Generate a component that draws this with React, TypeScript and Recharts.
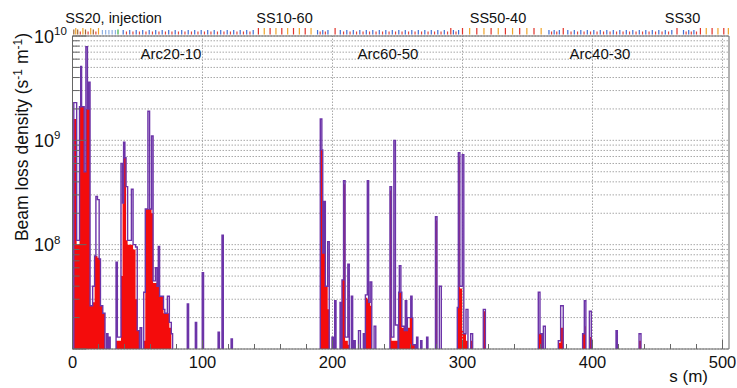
import React from 'react';
import {
  ComposedChart,
  Area,
  Line,
  Scatter,
  XAxis,
  YAxis,
  CartesianGrid,
  ReferenceLine,
} from 'recharts';

const WIDTH = 737;
const HEIGHT = 388;
const S_MAX = 505;
const Y_MIN = 1e7;
const Y_MAX = 1e10;
const FLOOR = 1e5; // empty bins end up below the frame and are clipped away
const FONT = '"Liberation Sans", Arial, Helvetica, sans-serif';
const AXIS = '#666';
const GRID = '#a8a8a8';
const PURPLE = '#6c34a8';
const RED = '#f40c0c';

// histogram bins: left edge (m); each bin runs up to the next edge
const binStart = [
  0, 1, 3.2, 5.4, 6.3, 7, 9, 10.3, 11.5, 12.4, 13.5, 15.5, 17, 18, 19.2, 20.5, 21.5, 23.3, 25, 26.3, 27.3, 28, 29,
  33.5, 34.5, 37.3, 38.5, 39.3, 40.3, 41.2, 42.4, 45.3, 46.6, 48.5, 49.8, 51.5, 52, 53.2, 54.8, 56, 58, 59.3, 60.8, 62, 63.8, 65, 66, 67, 70, 71, 73, 74.5, 76, 77,
  88.3, 89.3, 94.5, 95.5, 99.8, 100.8, 112, 113, 115, 116, 122, 123,
  190.6, 191.8, 192.5, 193.5, 194.5, 196.3, 197.5, 199.6, 200.6, 201.7, 202.7, 205.8, 206.8, 207.3, 208.5, 209.7, 211.8, 212.9, 214.5, 215.5, 216.5, 217.5, 220, 221.5, 223.7, 224.7, 225.3, 226.8, 227.8, 229, 230.2, 232, 233.3,
  244.2, 245.4, 247.2, 248.4, 250.4, 250.9, 251.4, 252.6, 253.3, 255.2, 256, 257.1, 257.6, 259.4, 260.2, 261.2, 261.7, 263.7, 264.7, 265.7, 267.8, 268.8, 272.4, 273.4, 279.2, 280.4, 282.2, 283.7, 296, 296.8, 298, 299.8, 301, 302.7, 304.2, 306.3, 307.8, 316, 317.6,
  358.3, 359.6, 361.2, 362.2, 363.7, 373.7, 375.5, 377.5, 392.4, 393.7, 394.9, 397.6, 399.1, 418.1, 419.1, 435.8, 437.3, 505,
];

// loss density per bin (s^-1 m^-1), purple outline histogram
const lossPurple = [
  0, 2.3e9, 1.1e8, 2.1e9, 5.1e9, 2.1e9, 5e8, 7.9e9, 2e9, 3.6e9, 2.6e7, 4e7, 7.8e7, 2.9e8, 2.7e8, 7.3e7, 2.6e7, 2.2e7, 0, 1.4e7, 0, 1.3e7, 0,
  6.8e7, 1.3e7, 6e8, 2.5e8, 9.6e8, 6.8e8, 3.6e8, 1.1e8, 3.4e8, 1e8, 9.5e7, 1.5e7, 0, 1.6e7, 0, 3.5e7, 2.2e8, 1.9e9, 2.2e8, 1.1e9, 4.5e7, 6e7, 4e7, 9.6e7, 3.2e7, 2.4e7, 2.2e7, 3.2e7, 1.8e7, 1.4e7, 0,
  2.7e7, 0, 1.8e7, 0, 5.4e7, 0, 1.45e7, 0, 1.23e8, 0, 1.25e7, 0,
  1.6e9, 8.1e8, 8.3e7, 2.6e8, 4e7, 1.07e8, 0, 1.3e7, 0, 2.9e7, 0, 2.8e7, 0, 4.6e7, 4.1e8, 1.3e7, 6.5e7, 0, 3.2e7, 0, 1.2e7, 0, 1.5e7, 0, 1.4e7, 0, 3.3e7, 4.1e8, 2.8e7, 4.4e7, 0, 1.65e7, 0,
  3.6e8, 1.3e7, 1e9, 1.7e7, 0, 3.5e7, 6.3e7, 3.5e7, 1.65e7, 1.5e7, 2.9e7, 1.5e7, 2e7, 2e7, 3.2e7, 2e7, 1.1e7, 0, 1.3e7, 0, 1.2e7, 0, 1.3e7, 0, 1.85e8, 0, 4e7, 0, 2.5e7, 7.6e8, 4e7, 7.3e8, 1.4e7, 2.4e7, 0, 1.4e7, 0, 2.4e7, 0,
  3.5e7, 1.4e7, 0, 1.65e7, 0, 1.2e7, 2.6e7, 0, 1.4e7, 2.9e7, 0, 2.3e7, 0, 1.5e7, 0, 1.4e7, 0, 0,
];

// loss density per bin, red filled histogram
const lossRed = [
  0, 1.6e9, 1e8, 2.1e9, 2.1e9, 2.1e9, 5e8, 2e9, 2e9, 2e9, 2.6e7, 2.8e7, 7.8e7, 7.8e7, 7.5e7, 7.3e7, 2.6e7, 2.2e7, 0, 0, 0, 0, 0,
  1.2e7, 1.2e7, 5e7, 2.5e8, 6.8e8, 6.8e8, 1.1e8, 1e8, 1e8, 9e7, 3e7, 1.5e7, 0, 0, 0, 1.2e7, 2.2e8, 2.2e8, 2.2e8, 2e8, 4.3e7, 4.3e7, 4e7, 4e7, 3.2e7, 2.2e7, 2.2e7, 2.2e7, 1.6e7, 0, 0,
  0, 0, 0, 0, 2e7, 0, 1.1e7, 0, 0, 0, 1.15e7, 0,
  8.1e8, 8.1e8, 8.3e7, 8.3e7, 4e7, 2.4e7, 0, 0, 0, 0, 0, 0, 0, 4.6e7, 3.8e8, 1.2e7, 1.1e7, 0, 0, 0, 0, 0, 0, 0, 0, 0, 3.1e7, 3e7, 2.8e7, 2.6e7, 0, 0, 0,
  3.3e8, 1.2e7, 1.2e7, 1.2e7, 0, 3.5e7, 3.5e7, 3.5e7, 1.6e7, 1.5e7, 1.5e7, 1.5e7, 1.6e7, 2e7, 2e7, 2e7, 1.1e7, 0, 0, 0, 0, 0, 1.2e7, 0, 1.7e8, 0, 0, 0, 2.5e7, 7e8, 3.8e7, 1.5e7, 1.4e7, 1.2e7, 0, 1.2e7, 0, 2.3e7, 0,
  1.4e7, 1.4e7, 0, 0, 0, 1.15e7, 1.6e7, 0, 1.4e7, 1.65e7, 0, 1.3e7, 0, 1.25e7, 0, 1.2e7, 0, 0,
];

// lattice element positions (m) drawn as the strip above the frame
const latticeQuad = [
  39, 44, 49, 54, 59, 64, 69, 74, 79, 84, 89, 94, 99, 104, 109, 114, 119, 124, 129, 134, 139,
  188.5, 192.5, 196.5,
  206, 211, 216, 221, 226, 231, 236, 241, 246, 251, 256, 261, 266, 271, 276, 281, 286, 293, 297,
  366.5, 370.5, 374.5,
  381, 386, 391, 396, 401, 406, 411, 416, 421, 426, 431, 436, 441, 446, 451, 456, 461,
  470, 474, 478,
];
const latticeDipole = [
  6, 12, 18,
  41.5, 46.5, 51.5, 56.5, 61.5, 66.5, 71.5, 76.5, 81.5, 86.5, 91.5, 96.5, 101.5, 106.5, 111.5, 116.5, 121.5, 126.5, 131.5, 136.5,
  190.5, 194.5,
  208.5, 213.5, 218.5, 223.5, 228.5, 233.5, 238.5, 243.5, 248.5, 253.5, 258.5, 263.5, 268.5, 273.5, 278.5, 283.5, 288.5, 295,
  368.5, 372.5,
  383.5, 388.5, 393.5, 398.5, 403.5, 408.5, 413.5, 418.5, 423.5, 428.5, 433.5, 438.5, 443.5, 448.5, 453.5, 458.5,
  472, 476, 480,
];
const latticeRed = [143, 152, 161, 170, 179, 202, 291, 300, 311, 322, 333, 344, 355, 377.5, 465, 483, 492, 501];
const latticeOrange = [2.5, 8, 14, 20, 147.5, 156.5, 165.5, 174.5, 183.5, 305.5, 316.5, 327.5, 338.5, 349.5, 360.5, 487.5, 496.5, 504.5];
const latticeBrown = [1, 4, 10, 16];
const latticeLight = [23, 25.5, 28, 30.5, 33];
const latticeGreen = [35];

const xTicks = [0, 20, 40, 60, 80, 100, 120, 140, 160, 180, 200, 220, 240, 260, 280, 300, 320, 340, 360, 380, 400, 420, 440, 460, 480, 500];
const xLabelled = [0, 100, 200, 300, 400, 500];
const yDecades = [1e7, 1e8, 1e9];
const yMantissas = [1, 2, 3, 4, 5, 6, 7, 8, 9];
const yTicks = [...yDecades.flatMap((d) => yMantissas.map((m) => m * d)), Y_MAX];
const yLabelled = [1e8, 1e9, 1e10];
const vGrid = [100, 200, 300, 400, 500];

const histRows = binStart.map((s, i) => ({
  s,
  purple: Math.max(lossPurple[i], FLOOR),
  red: Math.max(lossRed[i], FLOOR),
}));

const latticeSets = [
  { id: 'quad', pos: latticeQuad, color: '#3f6fd4', h: 4.5 },
  { id: 'dipole', pos: latticeDipole, color: '#e2443c', h: 3 },
  { id: 'red', pos: latticeRed, color: '#e2332a', h: 6.5 },
  { id: 'orange', pos: latticeOrange, color: '#f0a42a', h: 6.5 },
  { id: 'brown', pos: latticeBrown, color: '#9c6433', h: 5 },
  { id: 'light', pos: latticeLight, color: '#8fb0e2', h: 4.5 },
  { id: 'green', pos: latticeGreen, color: '#3fae4a', h: 5 },
];

function XTick(props: any) {
  const { x, y, payload } = props;
  const v = payload.value as number;
  const major = xLabelled.includes(v);
  return (
    <g>
      <line x1={x} x2={x} y1={y} y2={y - (major ? 9 : 5)} stroke={AXIS} />
      {major && (
        <text x={x} y={y + 18.5} textAnchor="middle" fontSize={16.5} fontFamily={FONT} fill="#111">
          {v}
        </text>
      )}
    </g>
  );
}

function YTick(props: any) {
  const { x, y, payload } = props;
  const v = payload.value as number;
  const exp = Math.round(Math.log10(v));
  const major = Math.abs(v / 10 ** exp - 1) < 1e-6;
  return (
    <g>
      <line x1={x} x2={x + (major ? 14 : 7)} y1={y} y2={y} stroke={AXIS} />
      {yLabelled.includes(v) && (
        <text x={34} y={y + 6.5} fontSize={18} fontFamily={FONT} fill="#111">
          10
          <tspan dy={-7.5} fontSize={11.5}>
            {exp}
          </tspan>
        </text>
      )}
    </g>
  );
}

export default function App() {
  return (
    <div style={{ position: 'absolute', left: 0, top: 0, width: WIDTH, height: HEIGHT, background: '#fff' }}>
      <ComposedChart
        width={WIDTH}
        height={HEIGHT}
        data={histRows}
        margin={{ top: 36, right: 8, bottom: 0, left: 0 }}
      >
        <CartesianGrid vertical={false} stroke={GRID} strokeDasharray="1.5 1.5" />
        <XAxis
          type="number"
          dataKey="s"
          domain={[0, S_MAX]}
          ticks={xTicks}
          interval={0}
          height={39}
          tickSize={0}
          tickMargin={0}
          tick={XTick}
          tickLine={false}
          axisLine={{ stroke: AXIS }}
        />
        <YAxis
          type="number"
          scale="log"
          domain={[Y_MIN, Y_MAX]}
          allowDataOverflow
          ticks={yTicks}
          interval={0}
          width={72.5}
          tickSize={0}
          tickMargin={0}
          tick={YTick}
          tickLine={false}
          axisLine={{ stroke: AXIS }}
        />
        <YAxis yAxisId="lattice" type="number" domain={[0, 1]} hide />
        {vGrid.map((v) => (
          <ReferenceLine key={v} x={v} stroke={GRID} strokeDasharray="1.5 1.5" ifOverflow="visible" />
        ))}
        <Area
          type="stepAfter"
          dataKey="red"
          baseValue={Y_MIN}
          stroke="none"
          fill={RED}
          fillOpacity={1}
          dot={false}
          activeDot={false}
          isAnimationActive={false}
        />
        <Line
          type="stepAfter"
          dataKey="purple"
          stroke={PURPLE}
          strokeWidth={1.4}
          dot={false}
          activeDot={false}
          isAnimationActive={false}
        />
        <ReferenceLine y={Y_MAX} stroke={AXIS} ifOverflow="visible" />
        <ReferenceLine x={S_MAX} stroke={AXIS} ifOverflow="visible" />
        {latticeSets.map((set) => (
          <Scatter
            key={set.id}
            data={set.pos.map((s) => ({ s, lv: 1 }))}
            yAxisId="lattice"
            dataKey="lv"
            isAnimationActive={false}
            shape={(p: any) => (
              <rect x={p.cx - 0.6} y={p.cy - 1.5 - set.h} width={1.2} height={set.h} fill={set.color} />
            )}
          />
        ))}
      </ComposedChart>
      <svg
        width={WIDTH}
        height={HEIGHT}
        style={{ position: 'absolute', left: 0, top: 0, pointerEvents: 'none' }}
        fontFamily={FONT}
        fill="#111"
      >
        <text x={113.5} y={22.5} fontSize={14.5} textAnchor="middle">SS20, injection</text>
        <text x={284.5} y={22.5} fontSize={14.5} textAnchor="middle">SS10-60</text>
        <text x={498} y={22.5} fontSize={14.5} textAnchor="middle">SS50-40</text>
        <text x={682.5} y={22.5} fontSize={14.5} textAnchor="middle">SS30</text>
        <text x={171} y={58.5} fontSize={15} textAnchor="middle">Arc20-10</text>
        <text x={388} y={58.5} fontSize={15} textAnchor="middle">Arc60-50</text>
        <text x={600} y={58.5} fontSize={15} textAnchor="middle">Arc40-30</text>
        <text x={708} y={381.5} fontSize={17} textAnchor="end">s (m)</text>
        <text transform="translate(27.5,33) rotate(-90)" textAnchor="end" fontSize={17.5}>
          Beam loss density (s
          <tspan dy={-6} fontSize={12}>-1</tspan>
          <tspan dy={6}>{' m'}</tspan>
          <tspan dy={-6} fontSize={12}>-1</tspan>
          <tspan dy={6}>)</tspan>
        </text>
      </svg>
    </div>
  );
}
